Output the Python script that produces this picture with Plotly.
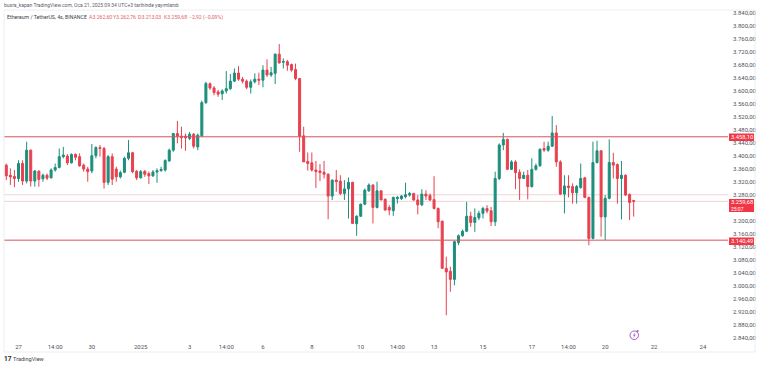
import pandas as pd
import plotly.graph_objects as go

# OHLC (4h candles, ETH/USDT)
opens = [3371,3340,3336,3330,3376,3322,3417,3322,3352,3329,3340,3332,3356,3364,3397,3399,3378,3404,3397,3371,
3359,3353,3400,3425,3422,3318,3397,3359,3335,3349,3392,3409,3352,3332,3352,3345,3338,3350,3354,3356,
3384,3417,3468,3460,3460,3453,3466,3427,3461,3563,3621,3608,3596,3590,3599,3606,3629,3654,3635,3629,
3610,3627,3635,3632,3663,3648,3653,3712,3687,3689,3680,3665,3637,3461,3382,3378,3356,3353,3349,3343,
3276,3325,3322,3284,3298,3318,3191,3214,3251,3292,3310,3241,3292,3266,3241,3231,3268,3268,3274,3279,
3284,3264,3249,3282,3278,3265,3238,3199,3054,3045,3020,3133,3154,3168,3214,3195,3209,3223,3238,3231,
3197,3330,3433,3450,3358,3381,3349,3330,3340,3305,3358,3369,3422,3417,3429,3470,3381,3282,3307,3305,
3286,3302,3332,3272,3146,3379,3415,3212,3269,3379,3373,3330,3340,3281,3262.60]
highs = [3376,3361,3356,3386,3386,3443,3419,3356,3356,3345,3345,3361,3376,3422,3427,3405,3407,3407,3407,3376,
3366,3436,3429,3433,3427,3402,3407,3366,3354,3397,3448,3412,3356,3356,3356,3351,3356,3361,3366,3389,
3422,3470,3507,3489,3468,3473,3470,3468,3569,3627,3625,3614,3602,3604,3660,3651,3668,3675,3642,3634,
3634,3653,3655,3678,3696,3673,3714,3743,3699,3694,3683,3683,3639,3489,3410,3410,3384,3374,3384,3346,
3327,3356,3340,3325,3333,3320,3217,3253,3299,3315,3312,3320,3294,3269,3248,3274,3276,3279,3317,3289,
3286,3279,3297,3294,3284,3337,3241,3200,3090,3059,3138,3158,3173,3258,3228,3238,3231,3243,3248,3243,
3351,3438,3470,3453,3386,3386,3358,3351,3356,3392,3376,3422,3443,3443,3522,3494,3386,3340,3340,3315,
3310,3376,3335,3274,3443,3446,3417,3279,3450,3409,3376,3384,3343,3284,3262.76]
lows = [3325,3310,3303,3320,3310,3315,3305,3305,3305,3320,3325,3330,3351,3361,3392,3371,3376,3386,3366,3351,
3320,3346,3392,3397,3299,3310,3310,3320,3330,3346,3386,3346,3325,3330,3335,3313,3335,3317,3351,3351,
3381,3412,3438,3422,3415,3448,3422,3417,3458,3559,3602,3586,3581,3571,3591,3602,3627,3630,3622,3604,
3591,3622,3617,3610,3642,3642,3620,3683,3668,3661,3658,3632,3412,3381,3354,3351,3301,3322,3330,3205,
3264,3289,3279,3264,3207,3192,3154,3212,3248,3289,3192,3238,3264,3231,3217,3215,3253,3264,3269,3274,
3261,3220,3245,3264,3261,3235,3177,3052,2910,2982,3002,3125,3151,3166,3182,3166,3202,3207,3223,3184,
3184,3325,3417,3356,3356,3297,3264,3330,3266,3302,3354,3366,3412,3412,3427,3366,3279,3223,3272,3253,
3253,3299,3269,3125,3143,3376,3151,3141,3266,3330,3253,3204,3276,3202,3213.03]
closes = [3338,3335,3330,3376,3322,3417,3322,3353,3327,3340,3331,3356,3364,3397,3402,3378,3404,3395,3369,3359,
3351,3400,3425,3422,3318,3397,3328,3335,3348,3392,3409,3351,3332,3351,3343,3338,3350,3354,3358,3385,
3417,3468,3460,3456,3455,3466,3429,3463,3563,3622,3608,3594,3589,3599,3606,3629,3654,3635,3629,3610,
3627,3635,3632,3663,3648,3655,3712,3685,3689,3678,3663,3637,3460,3381,3376,3356,3351,3348,3343,3276,
3325,3320,3284,3298,3318,3192,3214,3251,3294,3310,3241,3292,3264,3233,3233,3272,3272,3276,3280,3284,
3264,3249,3282,3276,3264,3238,3197,3054,3043,3020,3136,3154,3168,3214,3195,3210,3223,3238,3230,3197,
3330,3433,3450,3358,3381,3348,3330,3340,3305,3358,3369,3420,3417,3429,3470,3381,3282,3307,3302,3286,
3305,3330,3272,3146,3379,3415,3212,3269,3379,3371,3330,3340,3279,3256,3259.68]

first_candle = "2024-12-26 12:00"
tick_dates = ["2024-12-27 00:00","2024-12-28 12:00","2024-12-30 00:00","2025-01-01 00:00","2025-01-03 00:00",
              "2025-01-04 12:00","2025-01-06 00:00","2025-01-08 00:00","2025-01-10 00:00","2025-01-11 12:00",
              "2025-01-13 00:00","2025-01-15 00:00","2025-01-17 00:00","2025-01-18 12:00","2025-01-20 00:00",
              "2025-01-22 00:00","2025-01-24 00:00"]
tick_labels = ["27","14:00","30","2025","3","14:00","6","8","10","14:00","13","15","17","14:00","20","22","24"]
# 3240 is hidden behind the last-price tag in the reference
price_ticks = [3840,3800,3760,3720,3680,3640,3600,3560,3520,3480,3440,3400,3360,3320,3280,3200,3160,3120,
               3080,3040,3000,2960,2920,2880,2840]

level_lines = [3458.10, 3140.49]
faint_lines = [3280.0, 3259.68]
legend_values = ["A3.262,60", "Y3.262,76", "D3.213,03", "K3.259,68", "−2,92 (−0,09%)"]

GREEN, RED = "#1b8f7c", "#e8404f"
TXT = "#50535e"
FONT = "Roboto"

L, R, T, B = 4, 728, 10, 340
def px(x): return (x - L) / (R - L)
def py(y): return (B - y) / (B - T)

x = pd.date_range(first_candle, periods=len(closes), freq="4h")

fig = go.Figure(go.Candlestick(
    x=x, open=opens, high=highs, low=lows, close=closes,
    increasing=dict(line=dict(color=GREEN, width=1), fillcolor=GREEN),
    decreasing=dict(line=dict(color=RED, width=1), fillcolor=RED),
    whiskerwidth=0, showlegend=False, hoverinfo="skip"))

shapes = []
for v in level_lines:
    shapes.append(dict(type="line", xref="paper", yref="y", x0=0, x1=1, y0=v, y1=v,
                       line=dict(color="#d9525c", width=1), layer="above"))
for v in faint_lines:
    shapes.append(dict(type="line", xref="paper", yref="y", x0=0, x1=1, y0=v, y1=v,
                       line=dict(color="#eed5d7", width=1), layer="below"))
# frame
frame = "#eceef1"
for (x0, y0, x1, y1) in [(4, 10, 755, 10), (4, 352, 755, 352), (755, 10, 755, 352), (4, 10, 4, 352)]:
    shapes.append(dict(type="line", xref="paper", yref="paper", x0=px(x0), x1=px(x1), y0=py(y0), y1=py(y1),
                       line=dict(color=frame, width=1)))
# price tags
for (y0, y1) in [(133.5, 141), (199, 212), (237.5, 245)]:
    shapes.append(dict(type="rect", xref="paper", yref="paper", x0=px(729), x1=px(754), y0=py(y0), y1=py(y1),
                       fillcolor="#f23645", line=dict(width=0), layer="above"))
# bolt icon: ring, dot, bolt
ICON = "#a45cc4"
shapes.append(dict(type="circle", xref="paper", yref="paper", x0=px(630), x1=px(638.5), y0=py(331), y1=py(339.5),
                   line=dict(color=ICON, width=1), fillcolor="white", layer="above"))
shapes.append(dict(type="circle", xref="paper", yref="paper", x0=px(636.5), x1=px(638.7), y0=py(330), y1=py(332.2),
                   line=dict(width=0), fillcolor=ICON, layer="above"))
bolt = [(635.2, 332.4), (632.8, 335.6), (634.2, 335.6), (633.4, 338), (635.8, 334.8), (634.4, 334.8)]
shapes.append(dict(type="path", xref="paper", yref="paper",
                   path="M " + " L ".join(f"{px(a):.5f},{py(b):.5f}" for a, b in bolt) + " Z",
                   line=dict(width=0), fillcolor=ICON, layer="above"))

def note(text, x_, y_, size, color=TXT, anchor="left"):
    return dict(text=text, xref="paper", yref="paper", x=px(x_), y=py(y_), xanchor=anchor, yanchor="middle",
                showarrow=False, font=dict(family=FONT, size=size, color=color), borderpad=0, borderwidth=0)

legend_red = "#e0636e"
legend_x = [88.5, 112.7, 138, 163.5, 189]
annotations = [
    note("busra_kapan TradingView.com, Oca 21, 2025 09:34 UTC+3 tarihinde yayımlandı", 4, 5.5, 5.0, "#5a5d68"),
    note("Ethereum / TetherUS, 4s, BINANCE", 7, 17, 5.2, "#3c3f4a"),
    note("3.458,10", 741.5, 137.3, 5.8, "white", "center"),
    note("3.259,68", 741.5, 202.5, 5.8, "white", "center"),
    note("25:07", 738, 208.7, 5.0, "white", "center"),
    note("3.140,49", 741.5, 241.2, 5.8, "white", "center"),
    note("<b>17</b>", 4, 359, 6.5, "#1e222d"),
    note("TradingView", 13, 359, 5.6, "#3c3f4a"),
]
annotations += [note(t, a, 17, 5.2, legend_red) for t, a in zip(legend_values, legend_x)]

fig.update_layout(
    width=760, height=366, autosize=False,
    margin=dict(l=L, r=760 - R, t=T, b=366 - B),
    paper_bgcolor="white", plot_bgcolor="white",
    separators=",.",
    font=dict(family=FONT, size=6, color=TXT),
    showlegend=False, shapes=shapes, annotations=annotations,
    xaxis=dict(type="date", range=["2024-12-26 09:46", "2025-01-25 00:36"], rangeslider=dict(visible=False),
               tickmode="array", tickvals=tick_dates, ticktext=tick_labels, showgrid=False, zeroline=False,
               showline=False, ticks="", tickfont=dict(family=FONT, size=6, color=TXT), ticklabelstandoff=2, automargin=False),
    yaxis=dict(range=[2833.8, 3847.6], side="right", tickmode="array", tickvals=price_ticks, tickformat=",.2f",
               showgrid=False, zeroline=False, showline=False, ticks="", ticklabelstandoff=4,
               tickfont=dict(family=FONT, size=6, color=TXT), automargin=False),
)

fig.write_html("out.html", post_script="document.body.style.margin='0';", config=dict(displayModeBar=False))
